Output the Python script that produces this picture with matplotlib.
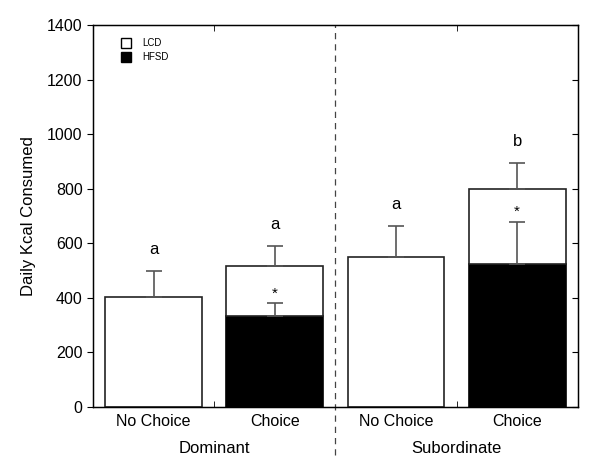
import matplotlib
matplotlib.use('Agg')
import matplotlib.pyplot as plt
from matplotlib.patches import Patch

plt.rcParams['font.family'] = ['Liberation Sans', 'DejaVu Sans']

bar_labels = ['No Choice', 'Choice', 'No Choice', 'Choice']
groups = ['Dominant', 'Subordinate']
hfsd = [0, 333, 0, 523]
lcd = [405, 182, 549, 276]
total_err = [95, 75, 115, 96]
hfsd_err = [0, 47, 0, 156]
letters = ['a', 'a', 'a', 'b']


def main():
    fig = plt.figure(figsize=(6, 4.65), dpi=100)
    ax = fig.add_axes([0.155, 0.1247, 0.808, 0.8215])

    x = list(range(len(bar_labels)))
    totals = [h + l for h, l in zip(hfsd, lcd)]
    ax.bar(x, hfsd, width=0.8, color='black', edgecolor='black', linewidth=1.2, zorder=2)
    ax.bar(x, lcd, bottom=hfsd, width=0.8, color='white', edgecolor='#222222',
           linewidth=1.2, zorder=2)

    ecol = '#555555'
    for i in x:
        ax.errorbar(i, totals[i], yerr=[[0], [total_err[i]]], color=ecol,
                    capsize=6, elinewidth=1.2, capthick=1.2, zorder=3)
        if hfsd_err[i] > 0:
            ax.errorbar(i, hfsd[i], yerr=[[0], [hfsd_err[i]]], color=ecol,
                        capsize=6, elinewidth=1.2, capthick=1.2, zorder=3)
            ax.text(i, hfsd[i] + hfsd_err[i] + 10, '*', ha='center', va='bottom',
                    fontsize=11)
        ax.text(i, totals[i] + total_err[i] + 50, letters[i], ha='center',
                va='bottom', fontsize=12)

    ax.set_xlim(-0.5, 3.5)
    ax.set_ylim(0, 1400)
    ax.set_yticks(range(0, 1401, 200))
    ax.set_xticks(x)
    ax.set_xticklabels(bar_labels)
    ax.tick_params(axis='x', length=0, labelsize=11.5, pad=5)
    ax.tick_params(axis='y', labelsize=11.5, direction='out', length=4)
    ax.set_xticks([0.5, 2.5], minor=True)
    ax.tick_params(axis='x', which='minor', direction='in', length=4, top=True)
    for s in ax.spines.values():
        s.set_linewidth(1.0)

    # inward ticks on the right edge
    ax2 = ax.twinx()
    ax2.set_ylim(0, 1400)
    ax2.set_yticks(range(0, 1401, 200))
    ax2.tick_params(axis='y', direction='in', length=4, labelright=False)

    ax.axvline(1.5, ymin=-0.125, ymax=1, color='#444444', linestyle=(0, (5, 4)),
               linewidth=0.9, clip_on=False)

    ax.text(0.5, -0.09, groups[0], transform=ax.get_xaxis_transform(),
            ha='center', va='top', fontsize=12)
    ax.text(2.5, -0.09, groups[1], transform=ax.get_xaxis_transform(),
            ha='center', va='top', fontsize=12)

    ax.set_ylabel('Daily Kcal Consumed', fontsize=12, labelpad=8)

    handles = [Patch(facecolor='white', edgecolor='black', label='LCD'),
               Patch(facecolor='black', edgecolor='black', label='HFSD')]
    ax.legend(handles=handles, loc='upper left', bbox_to_anchor=(0.04, 0.99),
              frameon=False, fontsize=7, handlelength=1.0, handleheight=1.2,
              handletextpad=1.2, labelspacing=0.45)

    fig.savefig('out.png', dpi=100)


if __name__ == '__main__':
    main()
